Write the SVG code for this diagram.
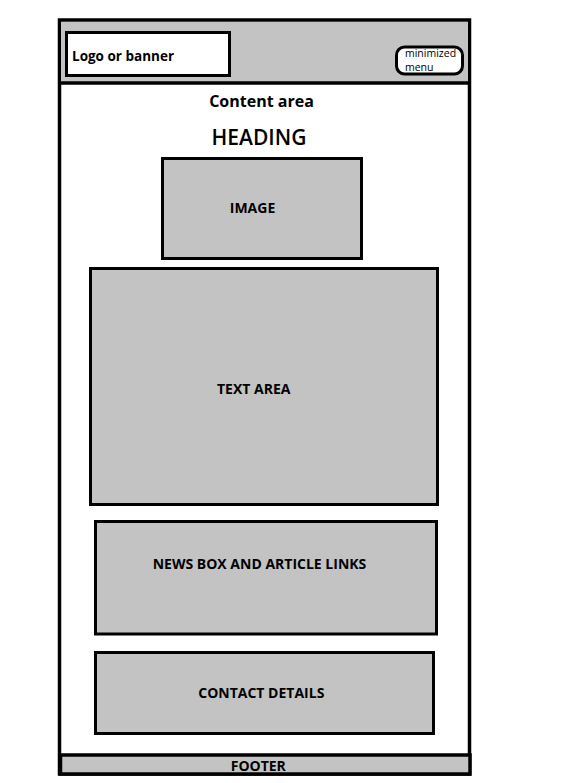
<svg xmlns="http://www.w3.org/2000/svg" width="572" height="783" viewBox="0 0 572 783">
<style>
.box{fill:#c3c3c3;stroke:#000;stroke-width:3}
.lbl{font-family:"Open Sans","Noto Sans","Liberation Sans",sans-serif;font-weight:bold;font-size:14px;fill:#000;text-anchor:middle}
.sm{font-family:"Open Sans","Noto Sans","Liberation Sans",sans-serif;font-size:10.5px;fill:#000}
</style>
<rect width="572" height="783" fill="#fff"/>
<g id="page">
<rect x="59.5" y="20" width="410" height="754" fill="#fff" stroke="#000" stroke-width="3.5"/>
</g>
<g id="header">
<rect x="61" y="22" width="407" height="61" fill="#c3c3c3"/>
<line x1="59" y1="83" x2="470" y2="83" stroke="#000" stroke-width="3.5"/>
</g>
<g id="logo">
<rect x="66.5" y="32.5" width="163" height="43" fill="#fff" stroke="#000" stroke-width="3"/>
<text x="72" y="61" style="font-family:'Open Sans','Noto Sans',sans-serif;font-weight:bold;font-size:13.5px">Logo or banner</text>
</g>
<g id="menu">
<rect x="396.5" y="47" width="66" height="27" rx="8" fill="#fff" stroke="#000" stroke-width="3"/>
<text x="405" y="57" class="sm">minimized</text>
<text x="405" y="71" class="sm">menu</text>
</g>
<g id="content-area">
<text x="261.5" y="106.5" class="lbl" style="font-size:16px">Content area</text>
</g>
<g id="heading">
<text x="259" y="145" class="lbl" style="font-size:21px;font-weight:600">HEADING</text>
</g>
<g id="image">
<rect class="box" x="162.5" y="158.5" width="199" height="100"/>
<text x="252.5" y="213" class="lbl">IMAGE</text>
</g>
<g id="text-area">
<rect class="box" x="90.5" y="268.5" width="347" height="236"/>
<text x="253.7" y="394" class="lbl">TEXT AREA</text>
</g>
<g id="news">
<rect class="box" x="95.5" y="521.5" width="341" height="112.5"/>
<text x="259.5" y="569" class="lbl">NEWS BOX AND ARTICLE LINKS</text>
</g>
<g id="contact">
<rect class="box" x="95.5" y="652.5" width="338" height="81"/>
<text x="261.3" y="697.5" class="lbl">CONTACT DETAILS</text>
</g>
<g id="footer">
<rect x="60.5" y="755" width="409.5" height="19" fill="#c3c3c3" stroke="#000" stroke-width="3.5"/>
<text x="258.3" y="771" class="lbl">FOOTER</text>
</g>
<g id="connectors"></g>
</svg>
